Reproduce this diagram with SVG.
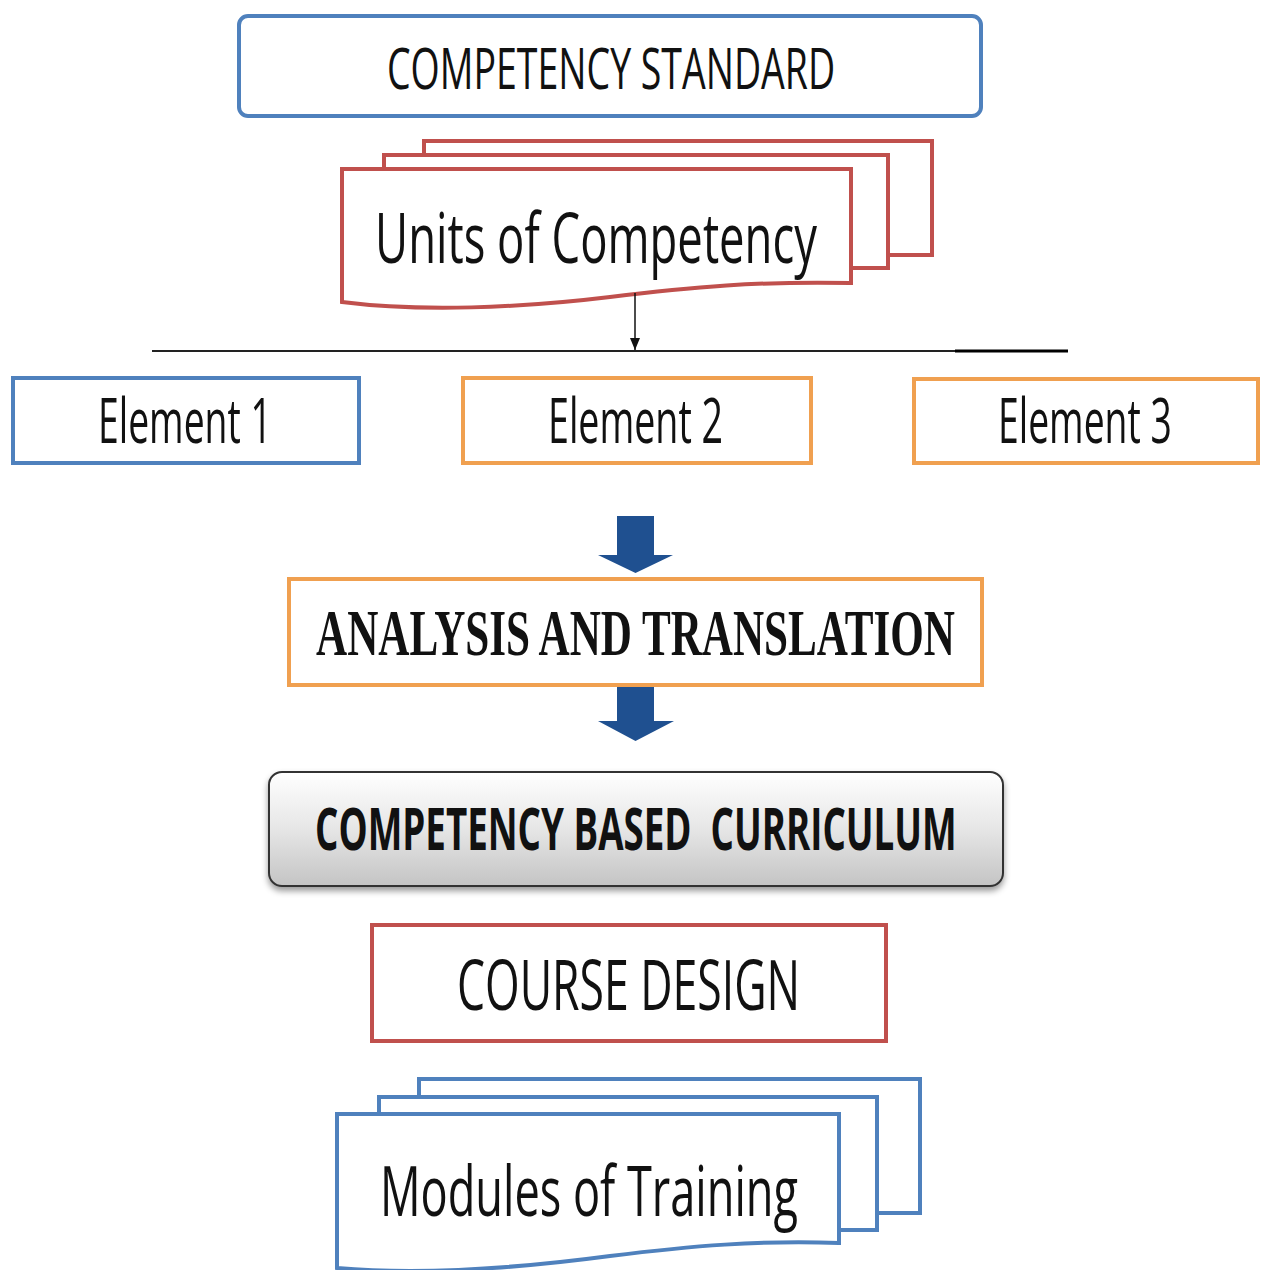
<svg xmlns="http://www.w3.org/2000/svg" width="1264" height="1270" viewBox="0 0 1264 1270">
<style>
.blue{fill:#fff;stroke:#4f81bd;stroke-width:4}
.red{fill:#fff;stroke:#c0504d;stroke-width:4}
.orange{fill:#fff;stroke:#f0a050;stroke-width:4}
.t{font-family:"Open Sans","Liberation Sans",sans-serif;fill:#111}
.tb{font-family:"Open Sans","Liberation Sans",sans-serif;font-weight:bold;fill:#111}
.ts{font-family:"Liberation Serif","DejaVu Serif",serif;font-weight:bold;fill:#111}
.blk{fill:#1f5090}
</style>
<defs>
<marker id="ah" markerWidth="12" markerHeight="10" refX="12" refY="5" orient="auto" markerUnits="userSpaceOnUse" viewBox="0 0 12 10">
<path d="M0,0 L12,5 L0,10 Z" fill="#111"/>
</marker>
<linearGradient id="gg" x1="0" y1="0" x2="0" y2="1">
<stop offset="0" stop-color="#ffffff"/>
<stop offset="0.5" stop-color="#e6e6e6"/>
<stop offset="1" stop-color="#c4c4c4"/>
</linearGradient>
<filter id="sh" x="-5%" y="-10%" width="110%" height="130%">
<feDropShadow dx="0" dy="4" stdDeviation="3" flood-color="#000" flood-opacity="0.4"/>
</filter>
</defs>
<rect width="1264" height="1270" fill="#fff"/>

<g id="competency-standard">
<rect class="blue" x="239" y="16" width="742" height="100" rx="9"/>
<text class="t" transform="translate(387,89) scale(0.66,1)" font-size="57" textLength="679" lengthAdjust="spacingAndGlyphs">COMPETENCY STANDARD</text>
</g>

<g id="units-of-competency">
<rect class="red" x="424" y="141" width="508" height="114"/>
<rect class="red" x="384" y="155" width="504" height="113"/>
<path class="red" d="M342,169 H851 V283 C760,281 690,287 610,297 C520,308 420,312 342,302 Z"/>
<text class="t" transform="translate(375,263) scale(0.65,1)" font-size="70" textLength="680" lengthAdjust="spacingAndGlyphs">Units of Competency</text>
</g>

<g id="connectors">
<line x1="635" y1="293" x2="635" y2="350" stroke="#111" stroke-width="1.5" marker-end="url(#ah)"/>
<line x1="152" y1="351" x2="1068" y2="351" stroke="#222" stroke-width="2"/>
<line x1="955" y1="351" x2="1068" y2="351" stroke="#000" stroke-width="3"/>
<path class="blk" d="M617,516 H654 V555 H673 L635.5,573 L598,555 H617 Z"/>
<path class="blk" d="M617,685 H654 V721 H674 L635.5,741 L598,721 H617 Z"/>
</g>

<g id="element-1">
<rect class="blue" x="13" y="378" width="346" height="85"/>
<text class="t" transform="translate(98,443) scale(0.61,1)" font-size="62" textLength="285" lengthAdjust="spacingAndGlyphs">Element 1</text>
</g>
<g id="element-2">
<rect class="orange" x="463" y="378" width="348" height="85"/>
<text class="t" transform="translate(548,443) scale(0.61,1)" font-size="62" textLength="287" lengthAdjust="spacingAndGlyphs">Element 2</text>
</g>
<g id="element-3">
<rect class="orange" x="914" y="379" width="344" height="84"/>
<text class="t" transform="translate(998,443) scale(0.61,1)" font-size="62" textLength="285" lengthAdjust="spacingAndGlyphs">Element 3</text>
</g>

<g id="analysis-and-translation">
<rect class="orange" x="289" y="579" width="693" height="106"/>
<text class="ts" transform="translate(316,655) scale(0.6,1)" font-size="65" textLength="1065" lengthAdjust="spacingAndGlyphs">ANALYSIS AND TRANSLATION</text>
</g>

<g id="competency-based-curriculum">
<rect x="269" y="772" width="734" height="114" rx="13" fill="url(#gg)" stroke="#333" stroke-width="2" filter="url(#sh)"/>
<text class="tb" transform="translate(315,850) scale(0.61,1)" font-size="59" textLength="1052" lengthAdjust="spacingAndGlyphs" xml:space="preserve">COMPETENCY BASED  CURRICULUM</text>
</g>

<g id="course-design">
<rect class="red" x="372" y="925" width="514" height="116"/>
<text class="t" transform="translate(457,1010) scale(0.64,1)" font-size="70" textLength="536" lengthAdjust="spacingAndGlyphs">COURSE DESIGN</text>
</g>

<g id="modules-of-training">
<rect class="blue" x="419" y="1079" width="501" height="134"/>
<rect class="blue" x="379" y="1097" width="498" height="133"/>
<path class="blue" d="M337,1114 H839 V1243 C760,1240 690,1246 610,1256 C520,1268 420,1275 337,1268 Z"/>
<text class="t" transform="translate(380,1216) scale(0.645,1)" font-size="70" textLength="648" lengthAdjust="spacingAndGlyphs">Modules of Training</text>
</g>
</svg>
